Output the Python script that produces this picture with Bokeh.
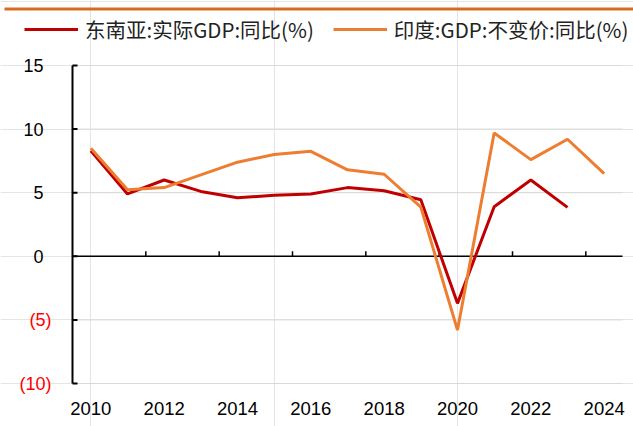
import math
from bokeh.plotting import figure
from bokeh.models import Legend, LegendItem, BoxAnnotation
from bokeh.core.properties import value
from bokeh.embed import file_html
from bokeh.resources import INLINE

years = list(range(2010, 2025))
sea_years = list(range(2010, 2024))
sea_gdp = [8.3, 4.9, 6.0, 5.1, 4.6, 4.8, 4.9, 5.4, 5.15, 4.45, -3.7, 3.9, 6.0, 3.85]
india_gdp = [8.5, 5.24, 5.4, 6.4, 7.4, 8.0, 8.25, 6.8, 6.45, 3.87, -5.8, 9.7, 7.6, 9.2, 6.5]
sea_label = "东南亚:实际GDP:同比(%)"
india_label = "印度:GDP:不变价:同比(%)"
x_labels = [2010, 2012, 2014, 2016, 2018, 2020, 2022, 2024]
y_ticks = [-10, -5, 0, 5, 10, 15]

# layout (pixels)
W, H = 633, 426
PL, PR, PT, PB = 72, 11, 65, 43          # plot-area margins
xl, xr = years[0] - 0.5, years[-1] + 0.5  # category band edges
yb, yt = y_ticks[0], y_ticks[-1]
kx = (W - PL - PR) / (xr - xl)
ky = (H - PT - PB) / (yt - yb)

p = figure(width=W, height=H, output_backend="svg", toolbar_location=None,
           x_range=(xl - PL / kx, xr + PR / kx), y_range=(yb - PB / ky, yt + PT / ky),
           x_axis_location=None, y_axis_location=None,
           min_border=0, min_border_left=0, min_border_right=0,
           min_border_top=0, min_border_bottom=0)
p.outline_line_color = None
p.background_fill_color = "white"
p.border_fill_color = "white"

# top decorative bar (7..10 px from the top)
p.add_layout(BoxAnnotation(bottom=yt + (PT - 10) / ky, top=yt + (PT - 7) / ky,
                           left=xl - (PL - 4) / kx,
                           fill_color="#DA6A22", fill_alpha=1, line_color=None))

# horizontal gridlines
p.segment(x0=[xl] * len(y_ticks), x1=[xr] * len(y_ticks), y0=y_ticks, y1=y_ticks,
          line_color="#D9D9D9", line_width=1)

# y axis line + inward ticks
p.segment(x0=[xl], x1=[xl], y0=[yb], y1=[yt], line_color="black", line_width=2)
p.ray(x=[xl] * len(y_ticks), y=y_ticks, length=5, length_units="screen", angle=0,
      line_color="black", line_width=2)

# y tick labels: negatives in red parentheses
y_text = [str(v) if v >= 0 else "(%d)" % (-v) for v in y_ticks]
y_col = ["black" if v >= 0 else "#FF0000" for v in y_ticks]
y_off = [-29 if v >= 0 else -21 for v in y_ticks]
p.text(x=[xl] * len(y_ticks), y=y_ticks, text=y_text, x_offset=y_off, text_color=y_col,
       text_align="right", text_baseline="middle",
       text_font=value("Liberation Sans"), text_font_size=value("18px"))

# zero line with category-boundary ticks
p.segment(x0=[xl], x1=[xr], y0=[0], y1=[0], line_color="black", line_width=1.5)
bx = [y + 0.5 for y in years if (y - years[0]) % 2 == 1 and y < years[-1]]
p.ray(x=bx, y=[0] * len(bx), length=5, length_units="screen", angle=math.pi / 2,
      line_color="black", line_width=1.5)

# x tick labels
p.text(x=x_labels, y=[yb] * len(x_labels), text=[str(v) for v in x_labels], y_offset=25,
       text_align="center", text_baseline="middle", text_color="black",
       text_font=value("Liberation Sans"), text_font_size=value("18.5px"))

# series
r1 = p.line(sea_years, sea_gdp, line_color="#C00000", line_width=3)
r2 = p.line(years, india_gdp, line_color="#ED7D31", line_width=3)

legend = Legend(items=[LegendItem(label=sea_label, renderers=[r1]),
                       LegendItem(label=india_label, renderers=[r2])],
                orientation="horizontal", location=(24, H - 44),
                label_text_font="Noto Sans CJK SC", label_text_font_size="20.5px",
                label_text_color="#222222",
                glyph_width=54, glyph_height=22, label_height=22, label_standoff=7, spacing=19,
                padding=0, margin=0, border_line_color=None, background_fill_alpha=0)
p.add_layout(legend, "center")

open("out.html", "w").write(file_html(p, INLINE))
